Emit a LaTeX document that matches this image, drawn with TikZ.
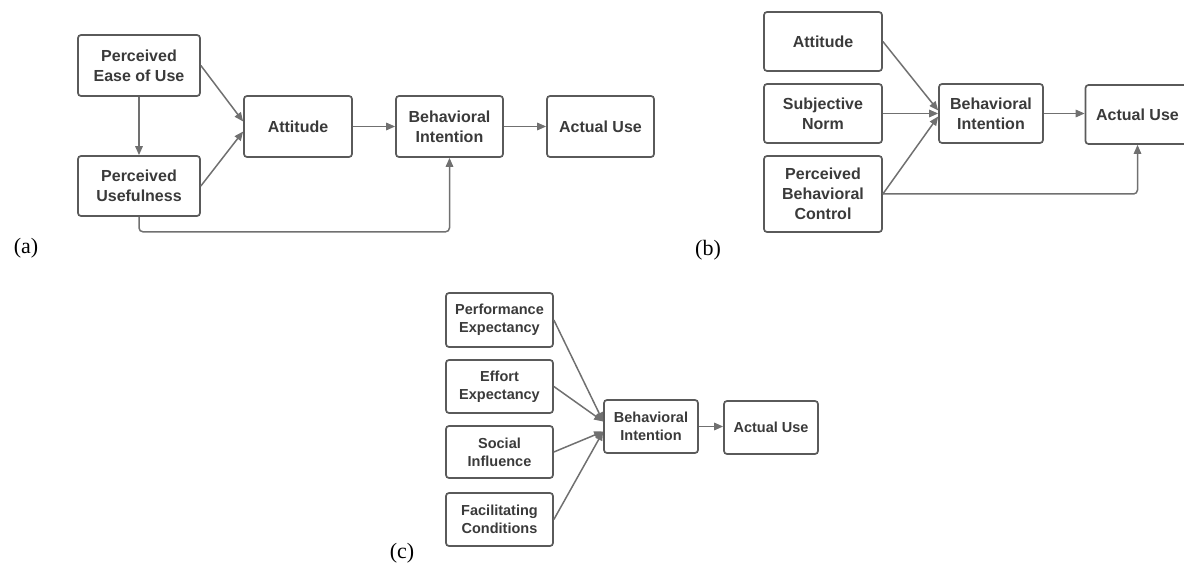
\documentclass[tikz,border=0pt]{standalone}
\usepackage{fontspec}
\setsansfont{Liberation Sans}
\setmainfont{Liberation Serif}
\usetikzlibrary{arrows.meta}

\definecolor{randgrau}{HTML}{5A5A5A}
\definecolor{textgrau}{HTML}{3A3A3A}
\definecolor{pfeilgrau}{HTML}{707070}

\tikzset{
  box/.style={draw=randgrau, line width=1.7pt, rounded corners=3pt, align=center,
    text=textgrau, inner sep=0pt, font=\sffamily\bfseries\fontsize{16}{20}\selectfont},
  kleinbox/.style={box, font=\sffamily\bfseries\fontsize{14.5}{18}\selectfont},
  pfeil/.style={draw=pfeilgrau, line width=1.5pt, -{Triangle[length=9pt,width=7.5pt]}},
  marke/.style={font=\rmfamily\fontsize{22}{24}\selectfont, text=black}
}

\begin{document}
\begin{tikzpicture}[x=1pt,y=-1pt]
  \useasboundingbox (0,0) rectangle (1184,577);

  % (a) TAM
  \node[box, minimum width=122pt, minimum height=61pt] (peou) at (139,65.5) {Perceived\\Ease of Use};
  \node[box, minimum width=122pt, minimum height=60pt] (pu) at (139,186) {Perceived\\Usefulness};
  \node[box, minimum width=108pt, minimum height=61pt] (att) at (298,126.5) {Attitude};
  \node[box, minimum width=107pt, minimum height=61pt] (bi) at (449.5,126.5) {Behavioral\\Intention};
  \node[box, minimum width=107pt, minimum height=61pt] (au) at (600.5,126.5) {Actual Use};

  \draw[pfeil] (peou.south) -- (pu.north);
  \draw[pfeil] (peou.east) -- ([yshift=5pt]att.west);
  \draw[pfeil] (pu.east) -- ([yshift=-5pt]att.west);
  \draw[pfeil] (att.east) -- (bi.west);
  \draw[pfeil] (bi.east) -- (au.west);
  \draw[pfeil, rounded corners=4pt] (pu.south) -- ++(0,15) -| (bi.south);

  \node[marke] (la) at (26,248) {(a)};

  % (b) TPB
  \node[box, minimum width=118pt, minimum height=59pt] (att2) at (823,41.5) {Attitude};
  \node[box, minimum width=118pt, minimum height=59pt] (sn) at (823,113.5) {Subjective\\Norm};
  \node[box, minimum width=118pt, minimum height=76pt] (pbc) at (823,194) {Perceived\\Behavioral\\Control};
  \node[box, minimum width=104pt, minimum height=59pt] (bi2) at (991,113.5) {Behavioral\\Intention};
  \node[box, minimum width=104pt, minimum height=59pt] (au2) at (1137.5,114.5) {Actual Use};

  \draw[pfeil] (att2.east) -- ([yshift=3pt]bi2.west);
  \draw[pfeil] (sn.east) -- (bi2.west);
  \draw[pfeil] (pbc.east) -- ([yshift=-3pt]bi2.west);
  \draw[pfeil] (bi2.east) -- (bi2.east -| au2.west);
  \draw[pfeil, rounded corners=4pt] (pbc.east) -| (au2.south);

  \node[marke] (lb) at (708,250) {(b)};

  % (c) UTAUT
  \foreach \name/\y/\h/\txt in {
      pe/320/54/Performance\\Expectancy,
      ee/386.5/53/Effort\\Expectancy,
      si/452/52/Social\\Influence,
      fc/519.5/53/Facilitating\\Conditions} {
    \node[kleinbox, minimum width=107pt, minimum height=\h pt] (\name) at (499.5,\y) {\txt};
  }
  \node[kleinbox, minimum width=94pt, minimum height=53pt] (bi3) at (651,426.5) {Behavioral\\Intention};
  \node[kleinbox, minimum width=94pt, minimum height=53pt] (au3) at (771,427.5) {Actual Use};

  \draw[pfeil] (pe.east) -- ([yshift=5pt]bi3.west);
  \draw[pfeil] (ee.east) -- ([yshift=5pt]bi3.west);
  \draw[pfeil] (si.east) -- ([yshift=-5pt]bi3.west);
  \draw[pfeil] (fc.east) -- ([yshift=-5pt]bi3.west);
  \draw[pfeil] (bi3.east) -- (bi3.east -| au3.west);

  \node[marke] (lc) at (402,553) {(c)};
\end{tikzpicture}
\end{document}
